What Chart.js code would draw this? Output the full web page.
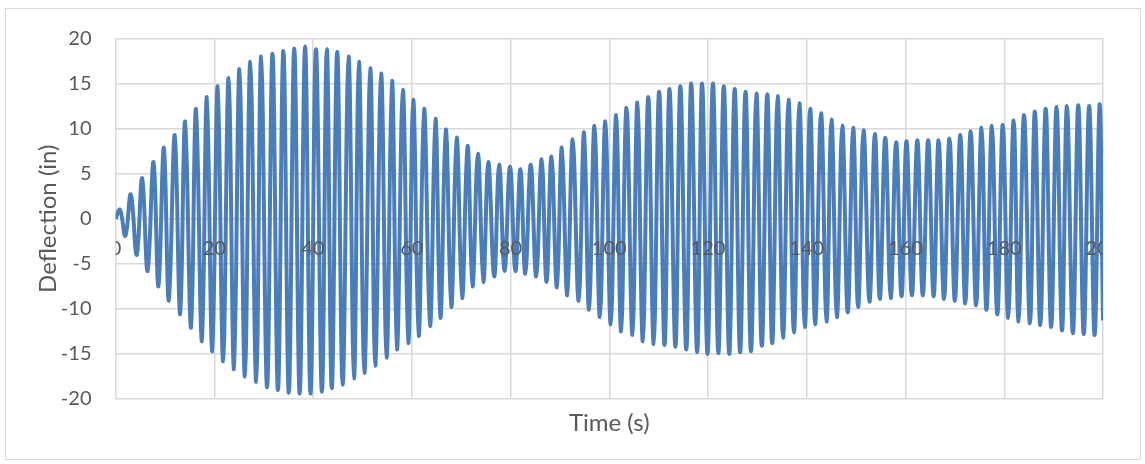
<!DOCTYPE html>
<html>
<head>
<meta charset="utf-8">
<script src="https://cdn.jsdelivr.net/npm/chart.js@4.4.1/dist/chart.umd.min.js"></script>
<style>
  html, body { margin: 0; padding: 0; background: #fff; }
  #wrap { position: relative; width: 1145px; height: 464px; }
  #frame { position: absolute; left: 5px; top: 8px; width: 1134px; height: 450px; border: 1px solid #d9d9d9; pointer-events: none; }
</style>
</head>
<body>
<div id="wrap">
  <canvas id="deflection-chart" width="1145" height="464"></canvas>
  <div id="frame"></div>
</div>
<script>
// Peaks and troughs of the deflection trace
const timeS = [
  0, 0.9, 2.0, 3.1, 4.3, 5.4, 6.5, 7.7, 8.7, 9.8, 10.8, 12.0, 13.1, 14.1, 15.3, 16.3, 17.5, 18.5, 19.6, 20.7,
  21.8, 22.9, 24.0, 25.1, 26.2, 27.3, 28.5, 29.5, 30.7, 31.8, 32.9, 34.0, 35.1, 36.2, 37.3, 38.4, 39.5, 40.6, 41.8, 42.8,
  43.8, 44.9, 46.0, 47.2, 48.3, 49.3, 50.4, 51.6, 52.6, 53.8, 54.9, 56.0, 57.0, 58.2, 59.3, 60.3, 61.4, 62.5, 63.7, 64.8,
  65.8, 66.9, 68.0, 69.1, 70.2, 71.3, 72.3, 73.4, 74.5, 75.5, 76.7, 77.7, 78.8, 79.9, 81.0, 82.0, 83.0, 84.1, 85.2, 86.3,
  87.3, 88.3, 89.4, 90.4, 91.5, 92.6, 93.8, 94.9, 95.9, 97.0, 98.1, 99.2, 100.3, 101.4, 102.4, 103.5, 104.7, 105.7, 106.8, 107.9,
  109.0, 110.1, 111.2, 112.2, 113.4, 114.4, 115.6, 116.6, 117.8, 118.8, 119.9, 121.0, 122.1, 123.2, 124.3, 125.4, 126.5, 127.6, 128.7, 129.8,
  130.9, 132.0, 133.0, 134.1, 135.2, 136.3, 137.4, 138.5, 139.6, 140.7, 141.7, 142.9, 144.0, 145.0, 146.1, 147.2, 148.3, 149.4, 150.4, 151.5,
  152.7, 153.8, 154.8, 155.9, 157.0, 158.1, 159.2, 160.2, 161.3, 162.4, 163.5, 164.6, 165.7, 166.7, 167.8, 168.9, 170.0, 171.1, 172.1, 173.2,
  174.3, 175.4, 176.4, 177.5, 178.6, 179.7, 180.8, 181.9, 182.9, 184.0, 185.2, 186.2, 187.3, 188.4, 189.5, 190.6, 191.7, 192.7, 193.9, 195.0,
  196.1, 197.2, 198.3, 199.3, 200.0
];

const deflectionIn = [
  0, 1.0, -1.9, 2.7, -4.0, 4.5, -5.8, 6.3, -7.5, 7.9, -9.1, 9.3, -10.6, 10.8, -12.1, 12.2, -13.6, 13.5, -14.7, 14.7,
  -15.8, 15.6, -16.7, 16.6, -17.5, 17.4, -18.1, 18.0, -18.7, 18.3, -19.0, 18.6, -19.3, 18.9, -19.4, 19.1, -19.4, 18.8, -19.2, 18.8,
  -18.8, 18.5, -18.4, 18.0, -17.7, 17.4, -17.1, 16.7, -16.3, 16.1, -15.4, 15.3, -14.5, 14.3, -13.8, 13.2, -13.0, 12.2, -11.9, 11.1,
  -11.0, 9.9, -9.8, 9.0, -8.8, 8.1, -7.5, 7.2, -7.0, 6.3, -6.4, 6.0, -5.8, 5.8, -5.8, 5.5, -6.1, 6.0, -6.4, 6.6,
  -7.0, 6.9, -7.6, 7.9, -8.5, 8.8, -9.1, 9.6, -10.1, 10.3, -10.9, 10.8, -11.7, 11.5, -12.5, 12.3, -12.9, 12.9, -13.6, 13.5,
  -13.9, 14.1, -14.0, 14.4, -14.2, 14.7, -14.5, 15.0, -14.8, 15.0, -15.0, 15.0, -14.9, 14.7, -15.0, 14.4, -14.8, 14.1, -14.7, 13.9,
  -14.1, 13.8, -13.8, 13.6, -13.2, 13.2, -12.6, 12.8, -12.0, 12.2, -11.7, 11.7, -11.4, 11.0, -10.9, 10.3, -10.4, 10.1, -9.8, 9.8,
  -9.2, 9.4, -8.9, 9.0, -8.8, 8.5, -8.6, 8.6, -8.5, 8.7, -8.5, 8.7, -8.6, 8.7, -8.9, 8.9, -9.1, 9.3, -9.4, 9.7,
  -9.6, 10.1, -10.1, 10.3, -10.6, 10.4, -11.0, 10.9, -11.4, 11.5, -11.6, 11.9, -11.8, 12.2, -12.0, 12.4, -12.4, 12.5, -12.7, 12.6,
  -12.8, 12.5, -12.9, 12.7, -11.3
];

const xTickValues = [0, 20, 40, 60, 80, 100, 120, 140, 160, 180, 200];
const yTickValues = [-20, -15, -10, -5, 0, 5, 10, 15, 20];

const textColor = '#595959';
const gridColor = '#d9d9d9';

// Excel draws the time labels just under the zero line, clipped to the plot area
const zeroLineLabels = {
    id: 'zeroLineLabels',
    afterDatasetsDraw(chart) {
        const { ctx, chartArea, scales } = chart;
        const y0 = scales.y.getPixelForValue(0);
        ctx.save();
        ctx.beginPath();
        ctx.rect(chartArea.left, chartArea.top, chartArea.right - chartArea.left, chartArea.bottom - chartArea.top);
        ctx.clip();
        ctx.fillStyle = textColor;
        ctx.font = '20px Lato';
        ctx.textAlign = 'center';
        ctx.textBaseline = 'middle';
        scales.x.ticks.forEach(t => {
            ctx.fillText(String(t.value), scales.x.getPixelForValue(t.value), y0 + 30);
        });
        ctx.restore();
    }
};

new Chart(document.getElementById('deflection-chart'), {
    type: 'line',
    data: {
        datasets: [{
            label: 'Deflection',
            data: timeS.map((t, i) => ({ x: t, y: deflectionIn[i] })),
            borderColor: '#4a7ebb',
            borderWidth: 4,
            pointRadius: 0,
            tension: 0.4,
            fill: false
        }]
    },
    options: {
        responsive: false,
        animation: false,
        devicePixelRatio: 1,
        layout: {
            padding: { left: 33.6, top: 38.5, right: 42, bottom: 26.6 }
        },
        scales: {
            x: {
                type: 'linear',
                min: 0,
                max: 200,
                afterBuildTicks: s => { s.ticks = xTickValues.map(v => ({ value: v })); },
                afterFit: s => { s.height = 38.4; },
                grid: { color: gridColor, lineWidth: 1.5, drawTicks: false },
                border: { display: false },
                ticks: { display: false },
                title: {
                    display: true,
                    text: 'Time (s)',
                    color: textColor,
                    font: { family: 'Lato', size: 24 },
                    padding: 0
                }
            },
            y: {
                type: 'linear',
                min: -20,
                max: 20,
                afterBuildTicks: s => { s.ticks = yTickValues.map(v => ({ value: v })); },
                afterFit: s => { s.width = 81.9; },
                grid: { color: gridColor, lineWidth: 1.5, drawTicks: false },
                border: { display: false },
                ticks: {
                    color: textColor,
                    font: { family: 'Lato', size: 20 },
                    padding: 24
                },
                title: {
                    display: true,
                    text: 'Deflection (in)',
                    color: textColor,
                    font: { family: 'Lato', size: 24 },
                    padding: 0
                }
            }
        },
        plugins: {
            legend: { display: false },
            tooltip: { enabled: false }
        }
    },
    plugins: [zeroLineLabels]
});
</script>
</body>
</html>
